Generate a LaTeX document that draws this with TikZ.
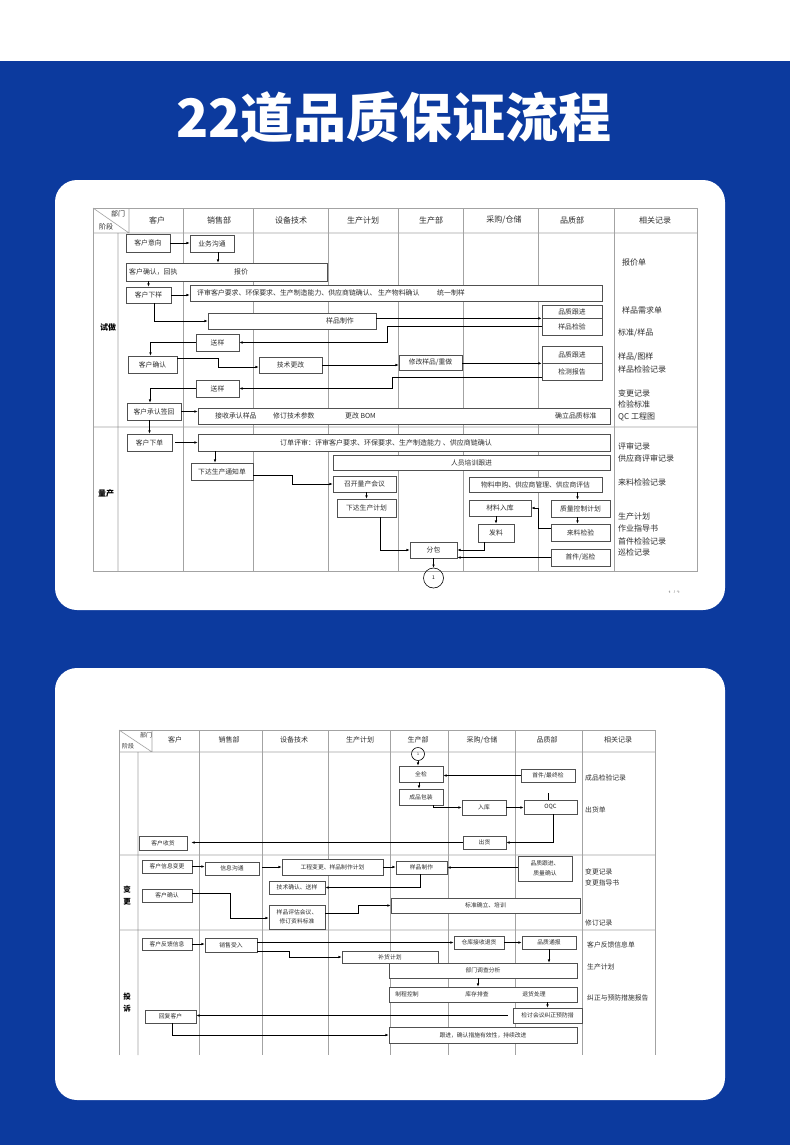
\documentclass[tikz,border=0pt]{standalone}
\usepackage{fontspec}
\setmainfont{Noto Sans CJK SC}
\usetikzlibrary{arrows.meta,positioning,calc}
\definecolor{pageblue}{HTML}{0C3A9E}
\definecolor{gridgray}{HTML}{A3A3A3}
\definecolor{boxgray}{HTML}{505050}
\definecolor{inkgray}{HTML}{2E2E2E}
\newcommand{\setfs}[2]{\fontsize{#1}{#2}\selectfont}

\begin{document}
\begin{tikzpicture}[x=1pt,y=-1pt,
 box/.style={draw=boxgray,line width=0.7pt,fill=white,inner sep=0pt,align=center,text=inkgray,font=\setfs{6.8}{9}},
 sbox/.style={box,font=\setfs{5.8}{9.5}},
 txt/.style={inner sep=0pt,text=inkgray,font=\setfs{6.9}{8}},
 stxt/.style={txt,font=\setfs{5.8}{7}},
 rec/.style={anchor=west,inner sep=0pt,text=inkgray,font=\setfs{8}{9}},
 srec/.style={rec,font=\setfs{6.8}{8}},
 head/.style={inner sep=0pt,text=inkgray,font=\setfs{8}{9}},
 shead/.style={head,font=\setfs{7}{8}},
 stage/.style={inner sep=0pt,align=center,text=black,font=\setfs{8}{10}\bfseries},
 arr/.style={-{Latex[length=3.2pt,width=2.6pt]},line width=0.6pt},
 grid/.style={draw=gridgray,line width=0.6pt}]
\useasboundingbox (0,0) rectangle (790,1145);
\fill[white] (0,0) rectangle (790,61);
\fill[pageblue] (0,61) rectangle (790,1145);
\node[font=\setfs{53}{56}\bfseries,text=white] (title) at (394,117) {22道品质保证流程};
\fill[white,rounded corners=22pt] (55,180) rectangle (725,610);
\fill[white,rounded corners=22pt] (55,668) rectangle (725,1100);

% sheet 1: grid
\draw[grid] (93,208) rectangle (697,571);
\foreach \x in {183,253,328,398,463,538,614} \draw[grid] (\x,208) -- (\x,571);
\draw[grid] (93,233) -- (697,233) (93,427) -- (697,427) (129,208) -- (129,233) (118,233) -- (118,571) (93,208) -- (129,233);
\foreach \x/\h [count=\i] in {157/客户,219/销售部,291/设备技术,363/生产计划,431/生产部,504/{采购/仓储},572/品质部,655/相关记录}
 \node[head] (ha\i) at (\x,220) {\h};
\node[head,font=\setfs{7}{8}] (ha0a) at (118,214) {部门};
\node[head,font=\setfs{7}{8}] (ha0b) at (106,227) {阶段};
\node[stage] (sza) at (108,327) {试做};
\node[stage] (szb) at (106,493) {量产};

% sheet 1: boxes
\foreach \id/\x/\y/\w/\h/\txt in {kyx/148/243/44/18/客户意向, ywgt/212/243.5/44/17/业务沟通, qrbj/226.5/272/201/18/{}, khxy/148.5/295/45/16/客户下样,
 psbox/396/293/412/16/{}, ypzz/292/321/168/16/{}, pzgja/572/311.5/60/13/品质跟进, ypjy/572/326.5/60/17/样品检验, sya/217.5/342.5/43/17/送样,
 khqr/152.5/364.5/49/17/客户确认, jsgg/290.5/365/63/16/技术更改, xgyp/430.5/362.5/63/15/{修改样品/重做}, pzgjb/572/354.5/60/17/品质跟进,
 jcbg/572/371.5/60/17/检测报告, syb/217.5/388.5/43/17/送样, khcr/154/411.5/54/17/客户承认签回, csbox/404/416/412/16/{},
 khxd/149.5/442.5/45/17/客户下单, ddps/404/442.5/412/17/{}, rypx/471.5/462.5/277/15/人员培训跟进, xdtz/222/471.5/62/17/下达生产通知单,
 zkhy/364.5/484/63/16/召开量产会议, xdjh/366.5/508/59/18/下达生产计划, fb/433.5/550/47/16/分包, wlsg/535.5/484.5/133/15/物料申购、供应商管理、供应商评估,
 zlkz/580.5/508.5/59/17/质量控制计划, llj/580.5/532.5/59/17/来料检验, clrk/500/508/62/16/材料入库, fl/496/533/36/18/发料, sjxj/580.5/557.5/59/17/{首件/巡检}}
 \node[box,minimum width=\w,minimum height=\h] (\id) at (\x,\y) {\txt};
\node[circle,draw=black,line width=0.6pt,minimum size=20pt,inner sep=0pt,font=\setfs{5}{6}] (ca) at (433.5,578) {1};
\node[txt,anchor=west] (qrbja) at (129,272) {客户确认，回执};
\node[txt] (qrbjb) at (241,272) {报价};
\node[txt,anchor=west] (psa) at (197,293) {评审客户要求、环保要求、生产制造能力、供应商链确认、\ 生产物料确认};
\node[txt,anchor=west] (psb) at (437,293) {统一制样};
\node[txt] (ypzza) at (340,321) {样品制作};
\node[txt,anchor=west] (csa) at (215,416) {接收承认样品};
\node[txt,anchor=west] (csb) at (273,416) {修订技术参数};
\node[txt,anchor=west] (csc) at (345,416) {更改 BOM};
\node[txt,anchor=west] (csd) at (555,416) {确立品质标准};
\node[txt,anchor=west,font=\setfs{7}{8}] (ddpsa) at (280,443) {订单评审：评审客户要求、环保要求、生产制造能力 、供应商链确认};

% sheet 1: flow
\draw[arr] (kyx.east) -- (kyx.east -| ywgt.west);
\draw[arr] ([xshift=6pt]ywgt.south) -- ([xshift=6pt]ywgt.south |- qrbj.north);
\draw[arr] (qrbj.south -| khxy.north) -- (khxy.north);
\draw[arr] (khxy.east) -- (khxy.east -| psbox.west);
\draw[arr] ([xshift=6pt]khxy.south) |- (ypzz.west);
\draw[arr] (ypzz.east |- pzgja.south west) -- (pzgja.south west);
\draw[arr] (ypjy.west) -- ++(-154,0) |- (sya.east);
\draw[arr] (sya.west) -| ([xshift=-2pt]khqr.north);
\draw[arr] ([yshift=6pt]khqr.east) -- ++(41,0) |- ([yshift=-2pt]jsgg.west);
\draw[arr] (jsgg.east) -- (jsgg.east -| xgyp.west);
\draw[arr] (xgyp.east |- pzgjb.south west) -- (pzgjb.south west);
\draw[arr] ([yshift=-6pt]jcbg.west) -- ++(-149,0) |- (syb.east);
\draw[arr] (syb.west) -| ([xshift=-4pt]khcr.north);
\draw[arr] (khcr.east) -- (khcr.east -| csbox.west);
\draw[arr] (khcr.south -| khxd.north) -- (khxd.north);
\draw[arr,shorten <=3pt] (khxd.east) -- (khxd.east -| ddps.west);
\draw[arr] ([xshift=-7pt]ddps.south -| xdtz.north) -- ([xshift=-7pt]xdtz.north);
\draw[arr] ([yshift=-4pt]xdtz.east) -- ++(39,0) |- (zkhy.west);
\draw[arr] ([xshift=2pt]zkhy.south) -- ([xshift=2pt]zkhy.south |- xdjh.north);
\draw[arr] ([xshift=14pt]xdjh.south) |- (fb.west);
\draw[arr] ([xshift=-3pt]zlkz.north |- wlsg.south) -- ([xshift=-3pt]zlkz.north);
\draw[arr] ([xshift=-3pt]zlkz.south) -- ([xshift=-3pt]llj.north);
\draw[arr] ([yshift=4pt]llj.west) -- ++(-12,0) |- (clrk.east);
\draw[arr] (fl.north |- clrk.south) -- (fl.north);
\draw[arr] ([xshift=-12pt]fl.south) |- (fb.east);
\draw[arr] (sjxj.west) -- (sjxj.west -| fb.east);
\draw[arr] (fb.south) -- (ca.north);

% sheet 1: records
\foreach \x/\y/\txt [count=\i] in {622/262/报价单,622/310/样品需求单,618/333/{标准/样品},618/357/{样品/图样},618/369/样品检验记录,618/393/变更记录,618/404/检验标准,
 618/417/QC 工程图,618/446/评审记录,618/458/供应商评审记录,618/482/来料检验记录,618/516/生产计划,618/528/作业指导书,618/541/首件检验记录,618/552/巡检记录}
 \node[rec] (ra\i) at (\x,\y) {\txt};
\begin{scope}
\clip (600,580) rectangle (700,592);
\node[txt,font=\setfs{6}{7},text=gray] (pga) at (674,594) {1 / 2};
\end{scope}

% sheet 2: grid
\draw[grid] (119,1055) -- (119,730) -- (655,730) -- (655,1055);
\foreach \x in {199,262,328,390,448,515,582} \draw[grid] (\x,730) -- (\x,1055);
\draw[grid] (119,752) -- (655,752) (119,855) -- (655,855) (119,930) -- (655,930) (152,730) -- (152,752) (138,752) -- (138,1055) (119,730) -- (152,752);
\foreach \x/\h [count=\i] in {175/客户,229/销售部,294/设备技术,360/生产计划,418/生产部,482/{采购/仓储},547/品质部,618/相关记录}
 \node[shead] (hb\i) at (\x,740) {\h};
\node[shead,font=\setfs{6}{7}] (hb0a) at (146,735) {部门};
\node[shead,font=\setfs{6}{7}] (hb0b) at (128,746) {阶段};
\node[stage,font=\setfs{7.5}{12}\bfseries] (sbb) at (127,896) {变\\更};
\node[stage,font=\setfs{7.5}{12}\bfseries] (sbc) at (127,1003) {投\\诉};

% sheet 2: boxes
\foreach \id/\x/\y/\w/\h/\txt in {qj/421/774/44/16/全检, sjzz/548/775.5/54/13/{首件/最终检}, cpbz/421/797/44/16/成品包装, rk/484/807.5/44/15/入库,
 oqc/550.5/807/53/14/OQC, ch/484.5/842.5/43/13/出货, khsh/163/843/48/14/客户收货,
 khxb/167/866.5/50/13/客户信息变更, xxgt/232/868.5/54/13/信息沟通, gcbg/332.5/867/101/16/工程变更、样品制作计划, ypzzb/421.5/867.5/51/13/样品制作,
 pzgjc/545/868.5/54/25/品质跟进、\\质量确认, jsqr/297/887.5/56/13/技术确认、送样, khqrb/167/895.5/50/13/客户确认,
 ypgh/297/917/56/24/样品评估会议、\\修订资料标准, bzql/485.5/905.5/189/15/标准确立、培训,
 khfk/167/944/50/12/客户反馈信息, xssr/231/945/52/14/销售受入, ckth/479/942.5/50/13/仓库接收退货, pztb/549/942.5/54/13/品质通报,
 bhjh/390/957/96/12/补货计划, bmdc/483/970.5/188/15/部门调查分析, zckz/483/994.5/188/15/{}, jthy/547.5/1015.5/69/15/检讨会议纠正预防措,
 hfkh/170.5/1016.5/51/13/回复客户, gj/483/1035/188/16/跟进，确认措施有效性，持续改进}
 \node[sbox,minimum width=\w,minimum height=\h] (\id) at (\x,\y) {\txt};
\node[circle,draw=black,line width=0.6pt,minimum size=13pt,inner sep=0pt,font=\setfs{3.5}{4}] (cb) at (418,754) {1};
\node[stxt] (zckza) at (407,994.5) {制程控制};
\node[stxt] (zckzb) at (477,994.5) {库存排查};
\node[stxt] (zckzc) at (534,994.5) {退货处理};

% sheet 2: flow
\draw[arr] (cb.south) -- (cb.south |- qj.north);
\draw[arr] (sjzz.west) -- (sjzz.west -| qj.east);
\draw[arr] ([xshift=-2pt]qj.south) -- ([xshift=-2pt]cpbz.north);
\draw[arr] ([xshift=12pt]cpbz.south) |- (rk.west);
\draw[arr] (rk.east) -- (rk.east -| oqc.west);
\coordinate (stub) at (548,793);
\draw[line width=0.6pt] (stub) -- (stub |- oqc.north);
\draw[arr] ([xshift=2.5pt]oqc.south) |- (ch.east);
\draw[arr,shorten >=4pt] (ch.west) -- (ch.west -| khsh.east);
\draw[arr] (khxb.east) -- (khxb.east -| xxgt.west);
\draw[arr,shorten <=3pt] (xxgt.east |- gcbg.west) -- (gcbg.west);
\draw[arr] (gcbg.east) -- (gcbg.east -| ypzzb.west);
\draw[arr] (pzgjc.west |- ypzzb.east) -- (ypzzb.east);
\draw[arr] ([xshift=-1.5pt]ypzzb.south) |- (jsqr.east);
\draw[arr] ([yshift=2.5pt]khqrb.east) -- ++(38,0) |- ([yshift=-1pt]ypgh.west);
\draw[arr] ([yshift=4pt]ypgh.east) -- ++(33,0) |- (bzql.west);
\draw[arr] (khfk.east) -- (khfk.east -| xssr.west);
\draw[arr] (xssr.east |- ckth.west) -- (ckth.west);
\draw[arr] (ckth.east) -- (ckth.east -| pztb.west);
\draw[arr] ([yshift=-6pt]xssr.east) -- ++(32,0) |- (bhjh.west);
\draw[arr] (pztb.south) -- (pztb.south |- bmdc.north);
\draw[arr] ([xshift=-5pt]bmdc.south) -- ([xshift=-5pt]zckz.north);
\draw[arr] (zckz.south -| jthy.north) -- (jthy.north);
\draw[arr,shorten <=5pt] (jthy.west) -- (jthy.west -| hfkh.east);
\draw[arr] ([xshift=1.5pt]hfkh.south) |- (gj.west);

% sheet 2: records
\foreach \x/\y/\txt [count=\i] in {585/778/成品检验记录,585/810/出货单,585/872/变更记录,585/883/变更指导书,585/923/修订记录,587/945/客户反馈信息单,587/967/生产计划,587/998/纠正与预防措施报告}
 \node[srec] (rb\i) at (\x,\y) {\txt};
\end{tikzpicture}
\end{document}
